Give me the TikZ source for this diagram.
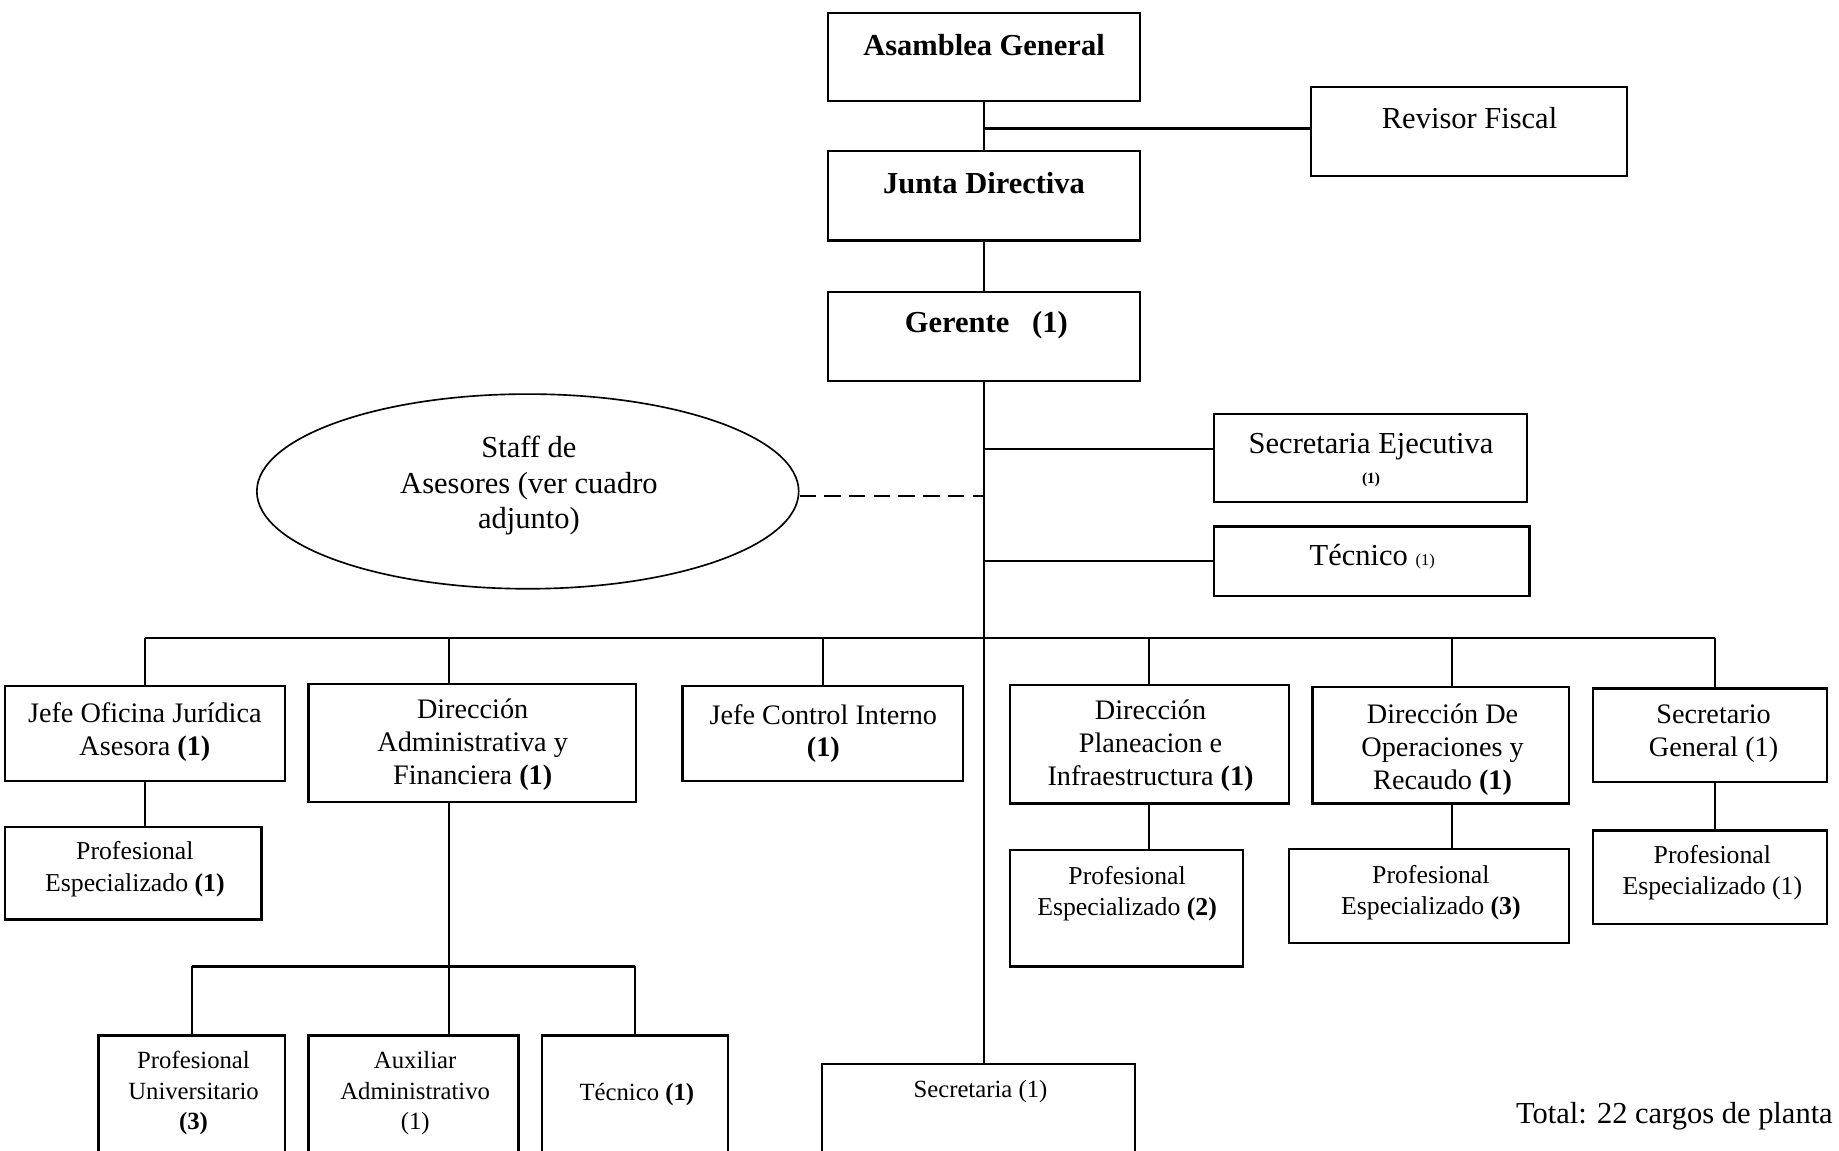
\documentclass[tikz,border=0pt]{standalone}
\usepackage{fontspec}
\setmainfont{Liberation Serif}
\usetikzlibrary{shapes.geometric,fit,calc}
\begin{document}
\begin{tikzpicture}[x=0.02cm,y=-0.02cm,
 box/.style={draw,line width=1.1pt,inner sep=0pt,rectangle},
 conn/.style={line width=1.05pt},
 tA/.style={inner sep=0pt,align=center,font=\fontsize{14.8}{17.4}\selectfont},
 tB/.style={inner sep=0pt,align=center,font=\fontsize{13.7}{15.9}\selectfont},
 tC/.style={inner sep=0pt,align=center,font=\fontsize{12.5}{15.4}\selectfont},
 tD/.style={inner sep=0pt,align=center,font=\fontsize{12}{14.8}\selectfont}
]
\useasboundingbox (0,0) rectangle (1568,981);
\clip (0,0) rectangle (1568,981);

% top boxes
\node[box,fit={(706,11) (972,86)}] (asam) {};
\node[tA,font=\fontsize{14.8}{17.4}\selectfont\bfseries] (asamt) at (839,38) {Asamblea General};
\node[box,fit={(1118,74) (1387,150)}] (rev) {};
\node[tA] (revt) at (1253,101) {Revisor Fiscal};
\node[box,fit={(706,129) (972,205)}] (junta) {};
\node[tA,font=\fontsize{14.8}{17.4}\selectfont\bfseries] (juntat) at (839,156) {Junta Directiva};
\node[box,fit={(706,249) (972,325)}] (ger) {};
\node[tA,font=\fontsize{14.8}{17.4}\selectfont\bfseries] (gert) at (841,277) {Gerente\hspace{0.75em}(1)};

\node[box,fit={(1035,353) (1302,428)}] (sej) {};
\node[tA] (sejt) at (1169,392) {Secretaria Ejecutiva\\[-3pt]{\fontsize{7.5}{9}\selectfont\bfseries (1)}};
\node[box,fit={(1035,449) (1304,508)}] (tec) {};
\node[tA] (tect) at (1170,475) {Técnico {\fontsize{8}{9}\selectfont (1)}};

\node[draw,ellipse,line width=0.8pt,minimum width={462*0.02cm},minimum height={166*0.02cm},tA] (staff) at (450,419) {};
\node[tA] (stafft) at (451,414) {Staff de\\Asesores (ver cuadro\\adjunto)};

% row 1
\node[box,fit={(4,585) (243,666)}] (jof) {};
\node[tB] (joft) at (123.5,624) {Jefe Oficina Jurídica\\Asesora \textbf{(1)}};
\node[box,fit={(263,583) (542,684)}] (dadm) {};
\node[tB] (dadmt) at (403,635) {Dirección\\Administrativa y\\Financiera \textbf{(1)}};
\node[box,fit={(582,585) (821,666)}] (jci) {};
\node[tB] (jcit) at (702,625.5) {Jefe Control Interno\\\textbf{(1)}};
\node[box,fit={(861,584) (1099,685)}] (dpl) {};
\node[tB] (dplt) at (981,636) {Dirección\\Planeacion e\\Infraestructura \textbf{(1)}};
\node[box,fit={(1119,586) (1338,685)}] (dop) {};
\node[tB] (dopt) at (1230,639) {Dirección De\\Operaciones y\\Recaudo \textbf{(1)}};
\node[box,fit={(1358,587) (1558,667)}] (sgen) {};
\node[tB] (sgent) at (1461,625.5) {Secretario\\General (1)};

% row 2
\node[box,fit={(4,705) (223,784)}] (pe1) {};
\node[tC] (pe1t) at (115,741) {Profesional\\Especializado \textbf{(1)}};
\node[box,fit={(861,725) (1060,824)}] (pe2) {};
\node[tC] (pe2t) at (961,762) {Profesional\\Especializado \textbf{(2)}};
\node[box,fit={(1099,724) (1338,804)}] (pe3) {};
\node[tC] (pe3t) at (1220,761) {Profesional\\Especializado \textbf{(3)}};
\node[box,fit={(1358,708) (1558,788)}] (pe4) {};
\node[tC] (pe4t) at (1460,744) {Profesional\\Especializado (1)};

% bottom
\node[box,fit={(84,883) (243,1000)}] (pu) {};
\node[tD] (put) at (165,932) {Profesional\\Universitario\\\textbf{(3)}};
\node[box,fit={(263,883) (442,1000)}] (aux) {};
\node[tD] (auxt) at (354,932) {Auxiliar\\Administrativo\\(1)};
\node[box,fit={(462,883) (621,1000)}] (tec2) {};
\node[tD] (tec2t) at (543,933) {Técnico \textbf{(1)}};
\node[box,fit={(701,907) (968,1000)}] (sec) {};
\node[tD] (sect) at (836,931) {Secretaria (1)};

\node[tA,anchor=east] (total) at (1563,952) {Total: 22 cargos de planta};

% helper coordinates
\coordinate (jA) at ($(asam.south)!0.55!(junta.north)$);
\coordinate (ySE) at (0,383);
\coordinate (yBus) at (0,544);
\coordinate (ySub) at (0,824);
\coordinate (xDA) at (383,0);
\coordinate (xDO) at (1238,0);
\coordinate (xSG) at (1462,0);

% connectors
\draw[conn] (asam.south) -- (junta.north);
\draw[conn] (jA) -- (jA -| rev.west);
\draw[conn] (junta.south) -- (ger.north);
\draw[conn] (ger.south) -- (ger.south |- sec.north);
\draw[conn] (ger.south |- ySE) -- (ySE -| sej.west);
\draw[conn] (ger.south |- tec.west) -- (tec.west);
\draw[line width=0.7pt,dash pattern=on 8pt off 4pt] ($(staff.east)+(0,4)$) -- ($(staff.east -| ger.south)+(0,4)$);

\draw[conn] (jof.north |- yBus) -- (xSG |- yBus);
\draw[conn] (jof.north |- yBus) -- (jof.north);
\draw[conn] (xDA |- yBus) -- (xDA |- dadm.north);
\draw[conn] (jci.north |- yBus) -- (jci.north);
\draw[conn] (dpl.north |- yBus) -- (dpl.north);
\draw[conn] (xDO |- yBus) -- (xDO |- dop.north);
\draw[conn] (xSG |- yBus) -- (xSG |- sgen.north);

\draw[conn] (jof.south) -- (jof.south |- pe1.north);
\draw[conn] (dpl.south) -- (dpl.south |- pe2.north);
\draw[conn] (xDO |- dop.south) -- (xDO |- pe3.north);
\draw[conn] (xSG |- sgen.south) -- (xSG |- pe4.north);

\draw[conn] (xDA |- dadm.south) -- (xDA |- ySub);
\draw[conn] (pu.north |- ySub) -- (tec2.north |- ySub);
\draw[conn] (pu.north |- ySub) -- (pu.north);
\draw[conn] (xDA |- ySub) -- (xDA |- aux.north);
\draw[conn] (tec2.north |- ySub) -- (tec2.north);
\end{tikzpicture}
\end{document}
